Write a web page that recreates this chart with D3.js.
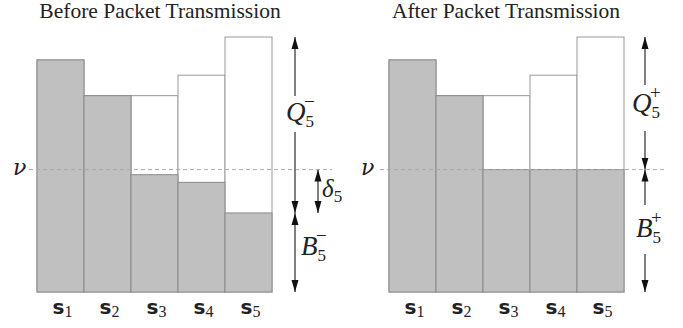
<!DOCTYPE html>
<html>
<head>
<meta charset="utf-8">
<script src="https://cdn.jsdelivr.net/npm/d3@7"></script>
<style>
  body { margin: 0; background: #fff; }
  svg { display: block; }
</style>
</head>
<body>
<div id="chart"></div>
<script>
const categories = ["1", "2", "3", "4", "5"];
const totalHeight = [91, 77, 77, 85, 100];
const backlogBefore = [91, 77, 46, 43, 31];
const backlogAfter = [91, 77, 48, 48, 48];
const nu = 48;
const titles = ["Before Packet Transmission", "After Packet Transmission"];

const width = 683, height = 328;
const svg = d3.select("#chart").append("svg")
  .attr("width", width)
  .attr("height", height);

const serif = "'Liberation Serif', 'DejaVu Serif', serif";

const defs = svg.append("defs");
["start", "end"].forEach(k => {
  defs.append("marker")
    .attr("id", "arr-" + k)
    .attr("viewBox", "0 0 12 8")
    .attr("refX", k === "end" ? 12 : 0)
    .attr("refY", 4)
    .attr("markerWidth", 12)
    .attr("markerHeight", 8)
    .attr("markerUnits", "userSpaceOnUse")
    .attr("orient", "auto")
    .append("path")
    .attr("d", k === "end" ? "M0,0.5L12,4L0,7.5Z" : "M12,0.5L0,4L12,7.5Z")
    .attr("fill", "#111");
});

const y = d3.scaleLinear().domain([0, 100]).range([292, 37]);

function mathLabel(g, x, yy, letter, sup) {
  const t = g.append("text")
    .attr("x", x).attr("y", yy)
    .attr("font-family", serif)
    .attr("fill", "#222");
  t.append("tspan").attr("font-style", "italic").attr("font-size", 27).text(letter);
  t.append("tspan").attr("font-size", 17).attr("dy", 6).attr("dx", 0).text("5");
  t.append("tspan").attr("font-size", 19).attr("dy", -19).attr("dx", -10).text(sup);
  return t;
}

function arrow(g, x, y1, y2, start, end) {
  const l = g.append("line")
    .attr("x1", x).attr("x2", x)
    .attr("y1", y1).attr("y2", y2)
    .attr("stroke", "#808080").attr("stroke-width", 2);
  if (start) l.attr("marker-start", "url(#arr-start)");
  if (end) l.attr("marker-end", "url(#arr-end)");
}

function panel(offsetX, backlog, before) {
  const g = svg.append("g").attr("transform", `translate(${offsetX},0)`);
  const x = d3.scaleBand().domain(categories).range([37, 272]).padding(0);

  g.append("text")
    .attr("x", before ? 160 : 154).attr("y", 18)
    .attr("text-anchor", "middle")
    .attr("font-family", serif)
    .attr("font-size", 21.5)
    .attr("fill", "#222")
    .text(titles[before ? 0 : 1]);

  // queue outline (white)
  g.selectAll(".queue").data(categories).enter().append("rect")
    .attr("x", d => x(d))
    .attr("y", (d, i) => y(totalHeight[i]))
    .attr("width", x.bandwidth())
    .attr("height", (d, i) => y(0) - y(totalHeight[i]))
    .attr("fill", "#fff")
    .attr("stroke", "#999")
    .attr("stroke-width", 1);

  // backlog (gray)
  g.selectAll(".backlog").data(categories).enter().append("rect")
    .attr("x", d => x(d))
    .attr("y", (d, i) => y(backlog[i]))
    .attr("width", x.bandwidth())
    .attr("height", (d, i) => y(0) - y(backlog[i]))
    .attr("fill", "#c0c0c0")
    .attr("stroke", "#8a8a8a")
    .attr("stroke-width", 1);

  // nu dashed line
  g.append("line")
    .attr("x1", before ? 29 : 28).attr("x2", before ? 332 : 313)
    .attr("y1", y(nu)).attr("y2", y(nu))
    .attr("stroke", "#aaa").attr("stroke-width", 1)
    .attr("stroke-dasharray", "4,3");
  g.append("text")
    .attr("x", before ? 13 : 9).attr("y", y(nu) + 5)
    .attr("font-family", "'DejaVu Serif', serif")
    .attr("font-style", "italic")
    .attr("font-size", 22)
    .attr("fill", "#222")
    .text("ν");

  // x labels
  const xl = g.selectAll(".xl").data(categories).enter().append("text")
    .attr("x", d => x(d) + x.bandwidth() / 2 + 2)
    .attr("y", 314)
    .attr("text-anchor", "middle")
    .attr("fill", "#222");
  xl.append("tspan")
    .attr("font-family", "'DejaVu Sans', sans-serif")
    .attr("font-weight", "bold")
    .attr("font-size", 20)
    .text("s");
  xl.append("tspan")
    .attr("font-family", serif)
    .attr("font-size", 16)
    .attr("dy", 3)
    .text(d => d);

  const last = categories.length - 1;
  const topY = y(totalHeight[last]);
  const gray5 = y(backlog[last]);
  const base = y(0);
  if (before) {
    const ax = 295;
    arrow(g, ax, topY, 96, true, false);
    arrow(g, ax, 132, gray5, false, true);
    mathLabel(g, 286, 121, "Q", "−");
    arrow(g, ax, gray5, base, true, true);
    mathLabel(g, 301, 255, "B", "−");
    arrow(g, 318, y(nu), gray5, true, true);
    g.append("text")
      .attr("x", 322).attr("y", 197)
      .attr("font-family", serif)
      .attr("fill", "#222")
      .call(t => {
        t.append("tspan").attr("font-style", "italic").attr("font-size", 25).text("δ");
        t.append("tspan").attr("font-size", 17).attr("dy", 5).text("5");
      });
  } else {
    const ax = 645 - offsetX;
    arrow(g, ax, topY, 85, true, false);
    arrow(g, ax, 131, gray5, false, true);
    mathLabel(g, 632 - offsetX, 112, "Q", "+");
    arrow(g, ax, gray5, 205, true, false);
    arrow(g, ax, 254, base, false, true);
    mathLabel(g, 636 - offsetX, 237, "B", "+");
  }
}

panel(0, backlogBefore, true);
panel(352, backlogAfter, false);
</script>
</body>
</html>
